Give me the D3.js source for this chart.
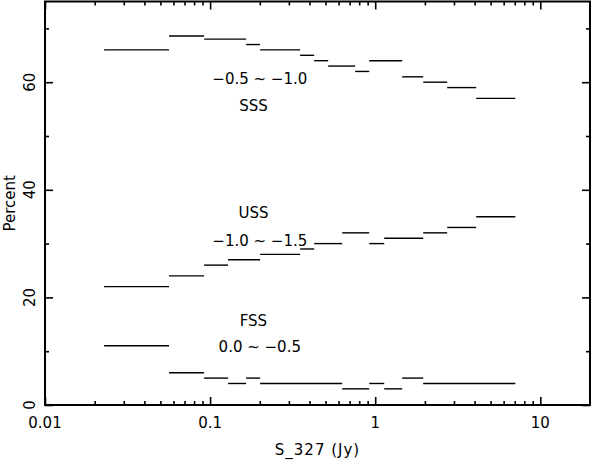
<!DOCTYPE html>
<html>
<head>
<meta charset="utf-8">
<script src="https://cdn.jsdelivr.net/npm/d3@7"></script>
<style>
html,body{margin:0;padding:0;background:#fff;}
svg{display:block;}
text{font-family:"DejaVu Sans",sans-serif;fill:#000;}
</style>
</head>
<body>
<svg id="chart" width="591" height="460"></svg>
<script>
// ---- data ----
const sssLo  = [0.0228, 0.0564, 0.092, 0.1653, 0.2009, 0.351, 0.427, 0.519, 0.756, 0.92, 1.457, 1.954, 2.73, 4.09];
const sssHi  = [0.0564, 0.092, 0.1653, 0.2009, 0.351, 0.427, 0.519, 0.756, 0.92, 1.457, 1.954, 2.73, 4.09, 7.06];
const sssVal = [66, 68.6, 68, 67, 66, 65, 64, 63, 62, 64, 61, 60, 59, 57];

const ussLo  = [0.0228, 0.0564, 0.092, 0.1285, 0.2009, 0.351, 0.427, 0.631, 0.92, 1.134, 1.954, 2.73, 4.09];
const ussHi  = [0.0564, 0.092, 0.1285, 0.2009, 0.351, 0.427, 0.631, 0.92, 1.134, 1.954, 2.73, 4.09, 7.06];
const ussVal = [22, 24, 26, 27, 28, 29, 30, 32, 30, 31, 32, 33, 35];

const fssLo  = [0.0228, 0.0564, 0.092, 0.1285, 0.1653, 0.2009, 0.631, 0.92, 1.134, 1.457, 1.954];
const fssHi  = [0.0564, 0.092, 0.1285, 0.1653, 0.2009, 0.631, 0.92, 1.134, 1.457, 1.954, 7.06];
const fssVal = [11, 6, 5, 4, 5, 4, 3, 4, 3, 5, 4];

const xTickLabels = [0.01, 0.1, 1, 10];
const yTickLabels = [0, 20, 40, 60];

const labelText = ["\u22120.5 ~ \u22121.0", "SSS", "USS", "\u22121.0 ~ \u22121.5", "FSS", "0.0 ~ \u22120.5"];
const labelX    = [0.2, 0.183, 0.183, 0.2, 0.183, 0.2];
const labelY    = [60.7, 55.7, 35.7, 30.65, 15.6, 10.8];

// ---- layout ----
const L = 45, R = 590, T = 1.5, B = 405;
const svg = d3.select("#chart");
const x = d3.scaleLog().domain([0.01, 20]).range([L, R]);
const y = d3.scaleLinear().domain([0, 75]).range([B, T]);

// minor ticks
const xMinor = [];
for (let d = 0.01; d < 20; d *= 10) {
  for (let k = 2; k <= 9; k++) { const v = d * k; if (v <= 20) xMinor.push(v); }
}
const yMinor = [10, 30, 50, 70];

function tickAxis(axisFn, scale, vals, len) {
  return axisFn(scale).tickValues(vals).tickSize(len).tickFormat("");
}
// bottom (inward = up)
svg.append("g").attr("transform", `translate(0,${B})`)
  .call(tickAxis(d3.axisTop, x, xTickLabels, 8));
svg.append("g").attr("transform", `translate(0,${B})`)
  .call(tickAxis(d3.axisTop, x, xMinor, 4));
// top (inward = down)
svg.append("g").attr("transform", `translate(0,${T})`)
  .call(tickAxis(d3.axisBottom, x, xTickLabels, 8));
svg.append("g").attr("transform", `translate(0,${T})`)
  .call(tickAxis(d3.axisBottom, x, xMinor, 4));
// left (inward = right)
svg.append("g").attr("transform", `translate(${L},0)`)
  .call(tickAxis(d3.axisRight, y, yTickLabels, 8));
svg.append("g").attr("transform", `translate(${L},0)`)
  .call(tickAxis(d3.axisRight, y, yMinor, 4));
// right (inward = left)
svg.append("g").attr("transform", `translate(${R},0)`)
  .call(tickAxis(d3.axisLeft, y, yTickLabels, 8));
svg.append("g").attr("transform", `translate(${R},0)`)
  .call(tickAxis(d3.axisLeft, y, yMinor, 4));

svg.selectAll(".domain").remove();
svg.selectAll(".tick line").attr("stroke", "#000").attr("stroke-width", 1.6);

// frame
svg.append("rect")
  .attr("x", L).attr("y", T).attr("width", R - L).attr("height", B - T)
  .attr("fill", "none").attr("stroke", "#000").attr("stroke-width", 2);

// tick labels
svg.selectAll(".xl").data(xTickLabels).enter().append("text")
  .attr("x", d => x(d)).attr("y", 428)
  .attr("text-anchor", "middle").attr("font-size", 15)
  .text(d => String(d));
svg.selectAll(".yl").data(yTickLabels).enter().append("text")
  .attr("transform", d => `translate(35,${y(d)}) rotate(-90)`)
  .attr("text-anchor", "middle").attr("font-size", 15)
  .text(d => String(d));

// axis titles
svg.append("text").attr("x", (L + R) / 2).attr("y", 455)
  .attr("text-anchor", "middle").attr("font-size", 15).attr("letter-spacing", 1)
  .text("S_327 (Jy)");
svg.append("text").attr("transform", `translate(15,${(T + B) / 2}) rotate(-90)`)
  .attr("text-anchor", "middle").attr("font-size", 15)
  .text("Percent");

// segments
function drawSeries(lo, hi, val) {
  const data = val.map((v, i) => ({ lo: lo[i], hi: hi[i], v }));
  svg.append("g").selectAll("line").data(data).enter().append("line")
    .attr("x1", d => x(d.lo)).attr("x2", d => x(d.hi))
    .attr("y1", d => y(d.v)).attr("y2", d => y(d.v))
    .attr("stroke", "#000").attr("stroke-width", 1.4);
}
drawSeries(sssLo, sssHi, sssVal);
drawSeries(ussLo, ussHi, ussVal);
drawSeries(fssLo, fssHi, fssVal);

// annotations
svg.selectAll(".ann").data(labelText).enter().append("text")
  .attr("x", (d, i) => x(labelX[i])).attr("y", (d, i) => y(labelY[i]))
  .attr("dy", "0.36em")
  .attr("text-anchor", "middle").attr("font-size", 15)
  .text(d => d);
</script>
</body>
</html>
